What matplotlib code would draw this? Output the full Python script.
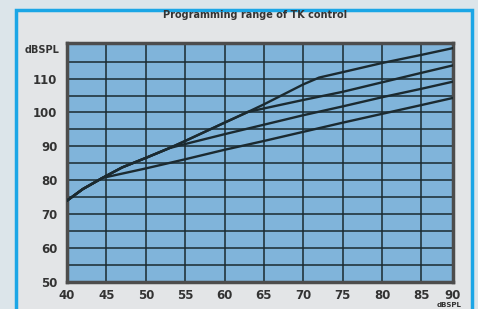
import matplotlib
matplotlib.use('Agg')
import matplotlib.pyplot as plt
from matplotlib.patches import Rectangle

# データ
x_top = [40, 42, 44.5, 47, 50, 53, 55, 60, 63, 65, 70, 72, 75, 80, 85, 89]
y_top = [74, 77.4, 80.7, 83.8, 86.6, 89.5, 91.6, 97, 100.2, 102.4, 108.3, 110.3, 111.9, 114.6, 117, 119]

x_second = [40, 42, 44.5, 47, 50, 53, 55, 60, 63, 70, 75, 80, 85, 89]
y_second = [74, 77.4, 80.7, 83.8, 86.6, 89.5, 91.6, 97, 100.2, 103.7, 106.1, 108.9, 111.7, 113.9]

x_third = [40, 42, 44.5, 47, 50, 53, 55, 60, 65, 70, 75, 80, 85, 89]
y_third = [74, 77.4, 80.7, 83.8, 86.6, 89.5, 90.7, 93.6, 96.4, 99.2, 101.8, 104.5, 107, 109.1]

x_bottom = [40, 42, 44.5, 50, 55, 60, 65, 70, 75, 80, 85, 89]
y_bottom = [74, 77.4, 80.7, 83.5, 86.2, 89, 91.6, 94.3, 97, 99.6, 102.2, 104.3]

x_ticks = [40, 45, 50, 55, 60, 65, 70, 75, 80, 85]
y_ticks = [50, 60, 70, 80, 90, 100, 110]
y_minor = [55, 65, 75, 85, 95, 105, 115]

plt.rcParams['font.family'] = ['Liberation Sans Narrow', 'DejaVu Sans']

fig = plt.figure(figsize=(4.78, 3.09), dpi=100, facecolor='#dce5ea')

# 外枠 (水色の線)
frame = Rectangle((16 / 478, -0.05), 456 / 478, 1.05 - 10 / 309,
                  transform=fig.transFigure, facecolor='#e3e5e7',
                  edgecolor='#1ba6e6', linewidth=2.5, zorder=-5)
fig.patches.append(frame)

ax = fig.add_axes([67 / 478, 1 - 282 / 309, (453 - 67) / 478, (282 - 43) / 309])
ax.set_zorder(2)
ax.set_facecolor('#80b4da')

line_kw = dict(color='#1b2a30', linewidth=1.7, zorder=3, solid_capstyle='round')
ax.plot(x_top, y_top, **line_kw)
ax.plot(x_second, y_second, **line_kw)
ax.plot(x_third, y_third, **line_kw)
ax.plot(x_bottom, y_bottom, **line_kw)

ax.set_xlim(40, 89)
ax.set_ylim(50, 120.5)
ax.set_xticks(x_ticks)
ax.set_yticks(y_ticks)
ax.set_yticks(y_minor, minor=True)
ax.grid(True, which='both', color='#1a2a30', linewidth=1.1, zorder=2)
ax.set_axisbelow(True)
ax.tick_params(which='both', length=0)
ax.tick_params(axis='x', pad=5, labelsize=8.5, labelcolor='#333333')
ax.tick_params(axis='y', pad=7, labelsize=8.5, labelcolor='#333333')
for lbl in ax.get_xticklabels() + ax.get_yticklabels():
    lbl.set_fontweight('bold')

for sp in ax.spines.values():
    sp.set_color('#4d4d4d')
    sp.set_linewidth(2.5)

ax.text(1.0, -0.03, '90', transform=ax.transAxes, ha='center', va='top',
        fontsize=8.5, fontweight='bold', color='#333333')
ax.text(0.99, -0.085, 'dBSPL', transform=ax.transAxes, ha='center', va='top',
        fontsize=5, fontweight='bold', color='#333333')
ax.text(-0.02, 0.99, 'dBSPL', transform=ax.transAxes, ha='right', va='top',
        fontsize=7, fontweight='bold', color='#333333')

fig.text(255 / 478, 1 - 15 / 309, 'Programming range of TK control', ha='center', va='center',
         fontsize=7, fontweight='bold', color='#333333')

fig.savefig('out.png', dpi=100, facecolor=fig.get_facecolor())
